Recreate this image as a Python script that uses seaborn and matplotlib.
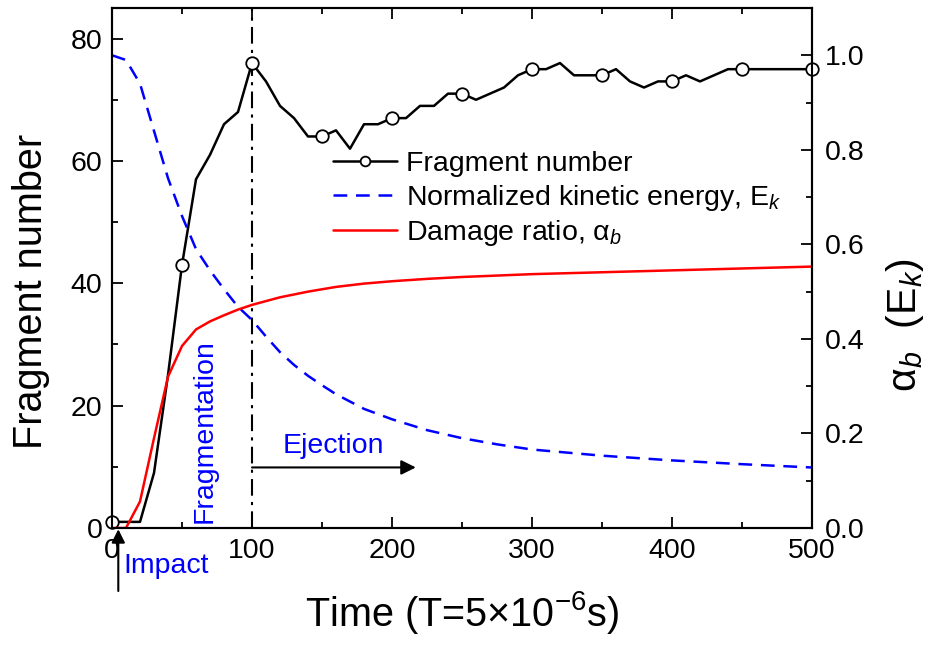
import matplotlib
matplotlib.use("Agg")
import matplotlib.pyplot as plt
import seaborn as sns
import pandas as pd
from matplotlib.ticker import MultipleLocator

# ---------------- data ----------------
frag_time = [0, 10, 20, 30, 40, 50, 60, 70, 80, 90, 100, 110, 120, 130, 140, 150,
             160, 170, 180, 190, 200, 210, 220, 230, 240, 250, 260, 270, 280, 290,
             300, 310, 320, 330, 340, 350, 360, 370, 380, 390, 400, 410, 420, 430,
             440, 450, 460, 470, 480, 490, 500]
fragment_number = [1, 1, 1, 9, 25, 43, 57, 61, 66, 68, 76, 73, 69, 67, 64, 64,
                   65, 62, 66, 66, 67, 67, 69, 69, 71, 71, 70, 71, 72, 74,
                   75, 75, 76, 74, 74, 74, 75, 73, 72, 73, 73, 74, 73, 74,
                   75, 75, 75, 75, 75, 75, 75]

curve_time = [0, 10, 20, 30, 40, 50, 60, 70, 80, 90, 100, 110, 120, 130, 140, 150,
              160, 180, 200, 225, 250, 275, 300, 350, 400, 450, 500]
kinetic_energy = [1.0, 0.99, 0.94, 0.84, 0.74, 0.66, 0.59, 0.545, 0.505, 0.468, 0.44,
                  0.405, 0.372, 0.345, 0.322, 0.302, 0.283, 0.252, 0.23, 0.207, 0.19,
                  0.177, 0.166, 0.153, 0.143, 0.135, 0.128]
damage_ratio = [0.0, 0.0, 0.056, 0.19, 0.32, 0.385, 0.42, 0.437, 0.45, 0.462, 0.472,
                0.48, 0.488, 0.494, 0.5, 0.505, 0.51, 0.517, 0.522, 0.527, 0.531,
                0.534, 0.537, 0.541, 0.545, 0.549, 0.553]

labels = ["Fragment number", "Normalized kinetic energy, E$_k$",
          r"Damage ratio, $\mathrm{\alpha}_b$"]

# ---------------- style ----------------
sns.set_theme(style="ticks")
plt.rcParams["font.family"] = ["Liberation Sans", "DejaVu Sans"]
plt.rcParams["mathtext.fontset"] = "custom"
plt.rcParams["mathtext.rm"] = "Liberation Sans"
plt.rcParams["mathtext.it"] = "Liberation Sans:italic"
plt.rcParams["mathtext.bf"] = "Liberation Sans:bold"
plt.rcParams["axes.linewidth"] = 1.5
for k in ("text.color", "axes.labelcolor", "xtick.color", "ytick.color",
          "xtick.labelcolor", "ytick.labelcolor", "axes.edgecolor"):
    plt.rcParams[k] = "black"

FS_TICK = 20.5
FS_LABEL = 28.5
LW = 1.8

fig = plt.figure(figsize=(9.27, 6.46), dpi=100)
ax = fig.add_axes([112 / 927, 118 / 646, 700 / 927, 520 / 646])
ax2 = ax.twinx()

df_frag = pd.DataFrame({"t": frag_time, "n": fragment_number})
df_curve = pd.DataFrame({"t": curve_time, "ek": kinetic_energy, "ab": damage_ratio})

sns.lineplot(data=df_frag, x="t", y="n", ax=ax, color="black", lw=LW,
             marker="o", markevery=5, markersize=9, markerfacecolor="white",
             markeredgecolor="black", markeredgewidth=1.3, label=labels[0],
             zorder=5, clip_on=False)
sns.lineplot(data=df_curve, x="t", y="ek", ax=ax2, color="blue", lw=LW,
             label=labels[1])
ax2.get_lines()[-1].set_dashes((5.5, 3.5))
sns.lineplot(data=df_curve, x="t", y="ab", ax=ax2, color="red", lw=LW,
             label=labels[2])

ax.set_xlim(0, 500)
ax.set_ylim(0, 85)
ax2.set_ylim(0, 1.1)

ax.xaxis.set_major_locator(MultipleLocator(100))
ax.xaxis.set_minor_locator(MultipleLocator(50))
ax.yaxis.set_major_locator(MultipleLocator(20))
ax.yaxis.set_minor_locator(MultipleLocator(10))
ax2.yaxis.set_major_locator(MultipleLocator(0.2))
ax2.yaxis.set_minor_locator(MultipleLocator(0.1))
ax2.set_yticks(ax2.get_yticks())
ax2.set_yticklabels([f"{v:.1f}" for v in ax2.get_yticks()])
ax2.set_ylim(0, 1.1)

for a in (ax, ax2):
    for s in a.spines.values():
        s.set_visible(True)
        s.set_linewidth(1.5)
        s.set_color("black")

ax.tick_params(axis="x", which="both", direction="in", top=True, bottom=True,
               labelsize=FS_TICK, pad=7, color="black", width=1.3)
ax.tick_params(axis="y", which="both", direction="in", left=True, right=False,
               labelsize=FS_TICK, pad=7, color="black", width=1.3)
ax2.tick_params(axis="y", which="both", direction="in", right=True,
                labelsize=FS_TICK, pad=9, color="black", width=1.3)
for a in (ax, ax2):
    a.tick_params(which="major", length=8)
    a.tick_params(which="minor", length=4.5)

ax.set_xlabel("Time (T=5\u00d710$^{-6}$s)", fontsize=FS_LABEL, labelpad=18)
ax.set_ylabel("Fragment number", fontsize=FS_LABEL, labelpad=15)
ax.yaxis.label.set_y(0.455)
ax2.set_ylabel(r"$\mathrm{\alpha}_b$  (E$_k$)", fontsize=FS_LABEL + 1, labelpad=14)
ax2.yaxis.label.set_y(0.39)

# vertical dash-dot line at t=100
ax.axvline(100, color="black", lw=1.5, ls=(0, (8, 3, 1.5, 3)), zorder=3)

# annotations
ax.annotate("", xy=(217, 9.9), xytext=(100, 9.9),
            arrowprops=dict(arrowstyle="-|>", color="black", lw=1.5,
                            mutation_scale=22, shrinkA=0, shrinkB=0))
ax.text(158, 13.4, "Ejection", color="blue", ha="center", va="center",
        fontsize=FS_TICK)
ax.text(66.5, 15.9, "Fragmentation", color="blue", rotation=90, ha="center",
        va="center", fontsize=FS_TICK)
ax.text(39, -6.2, "Impact", color="blue", ha="center", va="center",
        fontsize=FS_TICK, clip_on=False)
ax.annotate("", xy=(4.5, -0.2), xytext=(4.5, -10.3), annotation_clip=False,
            arrowprops=dict(arrowstyle="-|>", color="black", lw=1.5,
                            mutation_scale=20, shrinkA=0, shrinkB=0))

# combined legend
h1, l1 = ax.get_legend_handles_labels()
h2, l2 = ax2.get_legend_handles_labels()
if ax.get_legend() is not None:
    ax.get_legend().remove()
leg = ax2.legend(h1 + h2, l1 + l2, loc="upper left", bbox_to_anchor=(0.316, 0.725),
                 frameon=False, fontsize=FS_TICK, handlelength=2.25,
                 handletextpad=0.3, labelspacing=0.2, borderpad=0, borderaxespad=0)
leg.legend_handles[0].set_markersize(7)

fig.savefig("out.png", dpi=100)
